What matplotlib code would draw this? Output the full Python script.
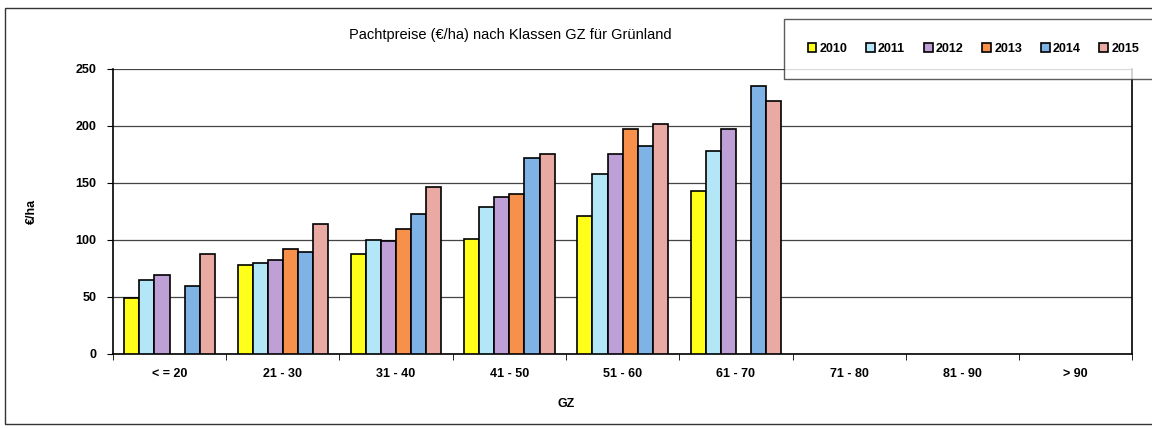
import numpy as np
import matplotlib
matplotlib.use("Agg")
import matplotlib.pyplot as plt
from matplotlib.patches import Rectangle

categories = ["< = 20", "21 - 30", "31 - 40", "41 - 50", "51 - 60", "61 - 70", "71 - 80", "81 - 90", "> 90"]
years = ["2010", "2011", "2012", "2013", "2014", "2015"]
nan = np.nan
v2010 = [49, 78, 88, 101, 121, 143, nan, nan, nan]
v2011 = [65, 80, 100, 129, 158, 178, nan, nan, nan]
v2012 = [69, 82, 99, 138, 175, 197, nan, nan, nan]
v2013 = [nan, 92, 110, 140, 197, nan, nan, nan, nan]
v2014 = [60, 89, 123, 172, 182, 235, nan, nan, nan]
v2015 = [88, 114, 146, 175, 202, 222, nan, nan, nan]
series = [v2010, v2011, v2012, v2013, v2014, v2015]
colors = ["#ffff1a", "#b3e6f7", "#bfa0d6", "#f7904a", "#7fb2e5", "#e8aaa2"]

plt.rcParams['font.family'] = ['Liberation Sans', 'DejaVu Sans']
fig = plt.figure(figsize=(11.52, 4.28), dpi=100)
ax = fig.add_axes([0.098, 0.173, 0.885, 0.666])

n = len(years)
bw = 0.8 / n
x = np.arange(len(categories))
for i, (vals, c, y) in enumerate(zip(series, colors, years)):
    ax.bar(x - 0.4 + bw * (i + 0.5), vals, width=bw, color=c, edgecolor="black",
           linewidth=1.2, label=y, zorder=3)

ax.set_xlim(-0.5, len(categories) - 0.5)
ax.set_ylim(0, 250)
ax.set_yticks([0, 50, 100, 150, 200, 250])
ax.set_yticklabels(["0", "50", "100", "150", "200", "250"], fontsize=9, fontweight="bold")
ax.yaxis.grid(True, color="#444444", linewidth=0.9, zorder=0)
ax.set_xticks(x)
ax.set_xticklabels(categories, fontsize=9, fontweight="bold")
ax.set_xticks(np.arange(len(categories) + 1) - 0.5, minor=True)
ax.tick_params(axis="x", which="major", length=0, pad=10)
ax.tick_params(axis="x", which="minor", length=4, direction="out")
ax.tick_params(axis="y", length=4, direction="out", pad=8)
ax.spines["top"].set_visible(False)
for s in ["left", "bottom", "right"]:
    ax.spines[s].set_linewidth(1.2)
ax.set_xlabel("GZ", fontsize=9, fontweight="bold")
ax.xaxis.set_label_coords(0.445, -0.155)
ax.set_ylabel("€/ha", fontsize=9, fontweight="bold")
ax.yaxis.set_label_coords(-0.074, 0.5)

fig.text(0.443, 0.918, "Pachtpreise (€/ha) nach Klassen GZ für Grünland", fontsize=10.5,
         ha="center", va="center")

# outer frame
fig.add_artist(Rectangle((0.004, 0.009), 1.2, 0.972, transform=fig.transFigure,
                         fill=False, edgecolor="#333333", linewidth=1.0))

leg = fig.legend(loc="center", bbox_to_anchor=(0.845, 0.885), ncol=6,
                 prop={"weight": "bold", "size": 9}, frameon=True, fancybox=False,
                 edgecolor="#333333", handlelength=0.7, handleheight=0.7,
                 handletextpad=0.25, columnspacing=1.5, borderpad=1.9)
leg.get_frame().set_linewidth(1.0)

fig.savefig("out.png", dpi=100, facecolor="white")
